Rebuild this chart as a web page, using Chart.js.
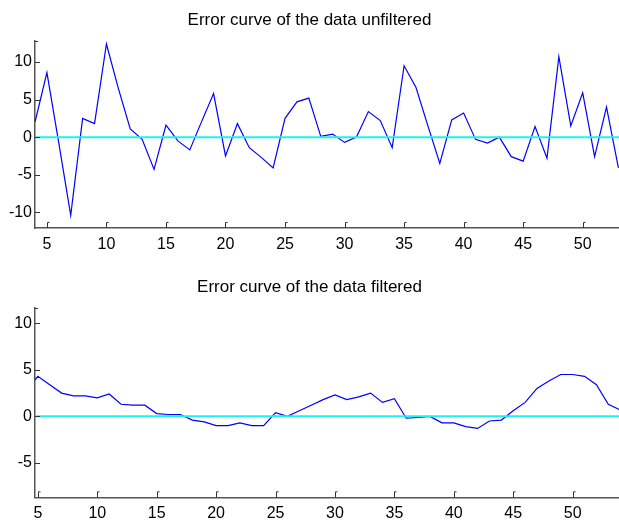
<!DOCTYPE html>
<html>
<head>
<meta charset="utf-8">
<title>Error curves</title>
<script src="https://cdn.jsdelivr.net/npm/chart.js@4/dist/chart.umd.min.js"></script>
<style>
  html, body { margin: 0; padding: 0; background: #fff; }
  .panel { width: 619px; height: 262px; }
</style>
</head>
<body>
<div class="panel"><canvas id="unfiltered" width="619" height="262"></canvas></div>
<div class="panel"><canvas id="filtered" width="619" height="262"></canvas></div>
<script>
// error per sample, raw signal (samples 4..53)
const unfilteredStart = 4;
const unfilteredError = [
  2.0, 8.6, -0.8, -10.4, 2.5, 1.8, 12.4, 6.5, 1.1, -0.3,
  -4.3, 1.6, -0.5, -1.7, 2.1, 5.8, -2.5, 1.8, -1.4, -2.7,
  -4.1, 2.5, 4.7, 5.2, 0.1, 0.4, -0.7, 0.0, 3.4, 2.2,
  -1.4, 9.5, 6.6, 1.5, -3.5, 2.3, 3.2, -0.3, -0.8, 0.0,
  -2.6, -3.2, 1.4, -2.8, 10.7, 1.5, 5.9, -2.6, 4.0, -4.1
];

// error per sample after filtering (samples 4..54)
const filteredStart = 4;
const filteredError = [
  2.8, 4.3, 3.4, 2.5, 2.2, 2.2, 2.0, 2.4, 1.3, 1.2,
  1.2, 0.3, 0.2, 0.2, -0.4, -0.6, -1.0, -1.0, -0.7, -1.0,
  -1.0, 0.4, 0.0, 0.6, 1.2, 1.8, 2.3, 1.8, 2.1, 2.5,
  1.5, 1.9, -0.2, -0.1, 0.0, -0.7, -0.7, -1.1, -1.3, -0.5,
  -0.4, 0.6, 1.5, 3.0, 3.8, 4.5, 4.5, 4.3, 3.4, 1.3, 0.7
];

const zeroLevel = 0;
const xTickStep = 5;
const yTickStep = 5;

// small matlab-like tick marks pointing into the plot
const inwardTicks = {
  id: 'inwardTicks',
  afterDraw(chart) {
    const { ctx, chartArea: a, scales: { x, y } } = chart;
    ctx.save();
    ctx.strokeStyle = '#333';
    ctx.lineWidth = 1;
    ctx.beginPath();
    x.ticks.forEach(t => {
      const px = Math.round(x.getPixelForValue(t.value)) + 0.5;
      ctx.moveTo(px, a.bottom);
      ctx.lineTo(px, a.bottom - 5.5);
      ctx.lineTo(px + 2, a.bottom - 5.5);
    });
    y.ticks.forEach(t => {
      const py = Math.round(y.getPixelForValue(t.value)) + 0.5;
      ctx.moveTo(a.left, py);
      ctx.lineTo(a.left + 5, py);
    });
    ctx.moveTo(a.left, a.top + 0.5);
    ctx.lineTo(a.left + 3, a.top + 0.5);
    ctx.stroke();
    ctx.restore();
  }
};

function errorChart(id, title, start, values, xr, yr, pad) {
  const points = values.map((v, i) => ({ x: start + i, y: v }));
  return new Chart(document.getElementById(id), {
    type: 'line',
    data: {
      datasets: [
        {
          data: [{ x: xr[0], y: zeroLevel }, { x: xr[1], y: zeroLevel }],
          borderColor: '#22f0f0',
          borderWidth: 2,
          pointRadius: 0
        },
        {
          data: points,
          borderColor: '#0000ff',
          borderWidth: 1.2,
          pointRadius: 0,
          tension: 0
        }
      ]
    },
    options: {
      responsive: false,
      animation: false,
      layout: { padding: 0 },
      plugins: {
        legend: { display: false },
        tooltip: { enabled: false },
        title: {
          display: true,
          text: title,
          color: '#000',
          font: { family: 'Arial, "Liberation Sans"', size: 17, weight: 'normal', lineHeight: 1.2 },
          padding: pad.title
        }
      },
      scales: {
        x: {
          type: 'linear',
          min: xr[0],
          max: xr[1],
          grid: { display: false, drawTicks: false },
          border: { color: '#555', width: 1.5 },
          ticks: {
            stepSize: xTickStep,
            includeBounds: false,
            maxRotation: 0,
            padding: 7,
            color: '#000',
            font: { family: 'Arial, "Liberation Sans"', size: 16 }
          },
          afterFit(s) { s.height = pad.xAxis; }
        },
        y: {
          min: yr[0],
          max: yr[1],
          grid: { display: false, drawTicks: false },
          border: { color: '#555', width: 1.5 },
          ticks: {
            stepSize: yTickStep,
            includeBounds: false,
            padding: 3,
            color: '#000',
            font: { family: 'Arial, "Liberation Sans"', size: 16 }
          },
          afterFit(s) { s.width = 35; }
        }
      }
    },
    plugins: [inwardTicks]
  });
}

errorChart('unfiltered', 'Error curve of the data unfiltered',
  unfilteredStart, unfilteredError, [4, 53.05], [-12.1, 12.8],
  { title: { top: 10, bottom: 10.6 }, xAxis: 34 });

errorChart('filtered', 'Error curve of the data filtered',
  filteredStart, filteredError, [4.76, 53.9], [-8.7, 11.65],
  { title: { top: 14.8, bottom: 10.8 }, xAxis: 26.7 });
</script>
</body>
</html>
